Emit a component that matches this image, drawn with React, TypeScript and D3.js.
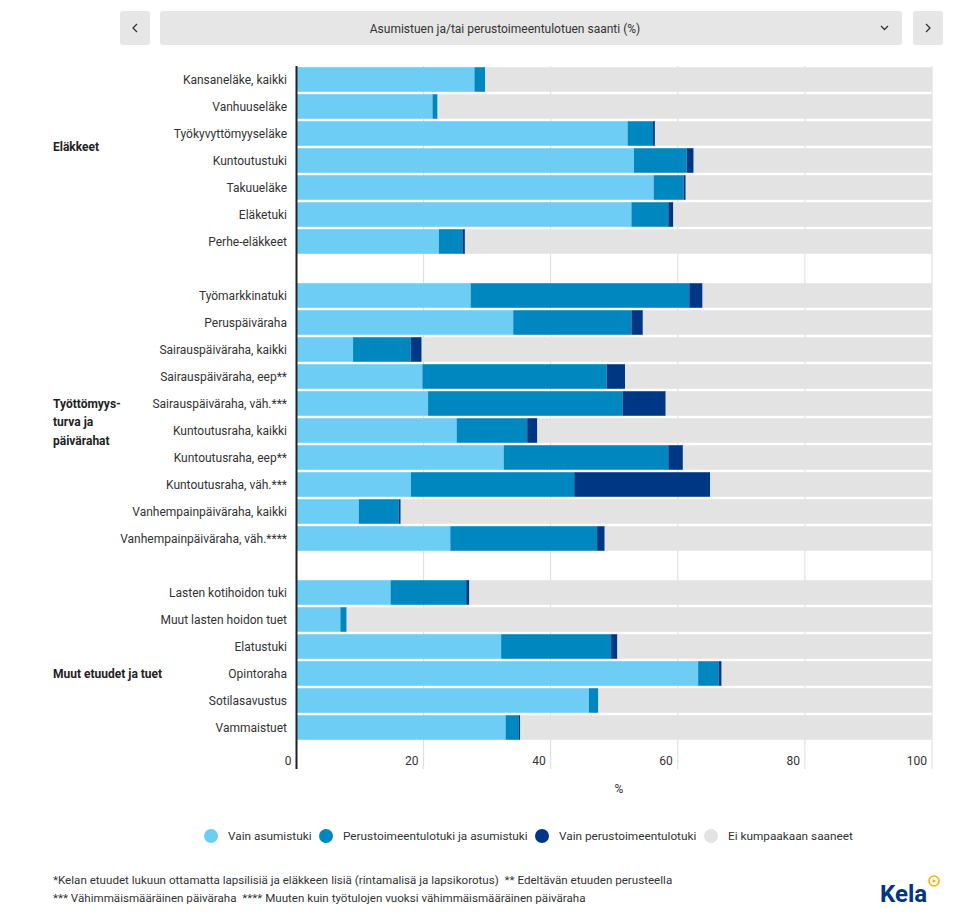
import React from "react";
import * as d3 from "d3";

const groupNames = ["Eläkkeet", "Työttömyys-\nturva ja\npäivärahat", "Muut etuudet ja tuet"];
const groupLabelRow = [2.5, 4, 3];
const categories = [
  ["Kansaneläke, kaikki", "Vanhuuseläke", "Työkyvyttömyyseläke", "Kuntoutustuki", "Takuueläke", "Eläketuki", "Perhe-eläkkeet"],
  ["Työmarkkinatuki", "Peruspäiväraha", "Sairauspäiväraha, kaikki", "Sairauspäiväraha, eep**", "Sairauspäiväraha, väh.***", "Kuntoutusraha, kaikki", "Kuntoutusraha, eep**", "Kuntoutusraha, väh.***", "Vanhempainpäiväraha, kaikki", "Vanhempainpäiväraha, väh.****"],
  ["Lasten kotihoidon tuki", "Muut lasten hoidon tuet", "Elatustuki", "Opintoraha", "Sotilasavustus", "Vammaistuet"],
];
const vainAsumistuki = [
  [28.0, 21.4, 52.1, 53.1, 56.2, 52.7, 22.4],
  [27.4, 34.1, 8.9, 19.8, 20.7, 25.2, 32.6, 18.0, 9.8, 24.2],
  [14.8, 6.9, 32.2, 63.2, 46.0, 32.9],
];
const perusJaAsumistuki = [
  [1.7, 0.8, 4.0, 8.3, 4.7, 5.8, 3.7],
  [34.4, 18.6, 9.1, 29.0, 30.6, 11.1, 25.9, 25.7, 6.3, 23.1],
  [11.9, 1.0, 17.3, 3.2, 1.5, 2.1],
];
const vainPerus = [
  [0, 0, 0.3, 1.1, 0.35, 0.8, 0.4],
  [2.1, 1.8, 1.7, 2.9, 6.8, 1.6, 2.3, 21.4, 0.3, 1.2],
  [0.5, 0, 1.0, 0.5, 0, 0.2],
];
const seriesNames = ["Vain asumistuki", "Perustoimeentulotuki ja asumistuki", "Vain perustoimeentulotuki", "Ei kumpaakaan saaneet"];
const seriesColors = ["#6dcdf5", "#0087bf", "#003784", "#e3e3e3"];
const xTicks = [0, 20, 40, 60, 80, 100];
const title = "Asumistuen ja/tai perustoimeentulotuen saanti (%)";
const footnotes = [
  "*Kelan etuudet lukuun ottamatta lapsilisiä ja eläkkeen lisiä (rintamalisä ja lapsikorotus)\u00a0 ** Edeltävän etuuden perusteella",
  "*** Vähimmäismääräinen päiväraha\u00a0 **** Muuten kuin työtulojen vuoksi vähimmäismääräinen päiväraha",
];

const FONT = "Roboto, 'Open Sans', sans-serif";

export default function App() {
  const W = 970, H = 914;
  type Row = { key: string; label: string; vals: number[]; group: number; idx: number };
  const rows: Row[] = [];
  const slots: string[] = [];
  categories.forEach((cats, g) => {
    if (g > 0) slots.push("spacer" + g);
    cats.forEach((c, i) => {
      const a = vainAsumistuki[g][i], b = perusJaAsumistuki[g][i], d = vainPerus[g][i];
      const rest = Math.max(0, 100 - a - b - d);
      rows.push({ key: c, label: c, vals: [a, b, d, rest], group: g, idx: i });
      slots.push(c);
    });
  });
  const x = d3.scaleLinear().domain([0, 100]).range([296.5, 932]);
  const y = d3.scaleBand<string>().domain(slots).range([66, 741]).paddingInner(0.09).paddingOuter(0.045);
  const plotTop = 66, plotBottom = 769;

  const legendX = [211, 326, 542, 711];

  return (
    <svg width={W} height={H} style={{ display: "block", position: "absolute", left: 0, top: 0 }} fontFamily={FONT}>
      {/* header */}
      <rect x={120} y={11} width={30} height={34} rx={3} fill="#e6e6e6" />
      <path d="M137 24 L133 28 L137 32" fill="none" stroke="#333" strokeWidth={1.3} />
      <rect x={160} y={11} width={742} height={34} rx={3} fill="#e6e6e6" />
      <text x={505} y={32.5} textAnchor="middle" fontSize={12} fill="#333">{title}</text>
      <path d="M881 26 L884.5 29.5 L888 26" fill="none" stroke="#333" strokeWidth={1.3} />
      <rect x={913} y={11} width={30} height={34} rx={3} fill="#e6e6e6" />
      <path d="M926 24 L930 28 L926 32" fill="none" stroke="#333" strokeWidth={1.3} />

      {/* gridlines */}
      {xTicks.filter((t) => t > 0).map((t) => (
        <line key={t} x1={x(t)} x2={x(t)} y1={plotTop} y2={plotBottom} stroke="#dcdcdc" strokeWidth={1} />
      ))}

      {/* bars */}
      {rows.map((r) => {
        let acc = 0;
        const y0 = y(r.key)!;
        return (
          <g key={r.key}>
            {r.vals.map((v, si) => {
              const x0 = x(acc);
              acc += v;
              const x1 = x(acc);
              if (v <= 0) return null;
              return <rect key={si} x={x0} y={y0} width={x1 - x0} height={y.bandwidth()} fill={seriesColors[si]} />;
            })}
            <text x={287} y={y0 + y.bandwidth() / 2 + 4} textAnchor="end" fontSize={12} fill="#333">{r.label}</text>
          </g>
        );
      })}

      {/* group labels */}
      {groupNames.map((g, gi) => {
        const cats = categories[gi];
        const lo = Math.floor(groupLabelRow[gi]);
        const frac = groupLabelRow[gi] - lo;
        const yA = y(cats[lo])! + y.bandwidth() / 2;
        const yB = lo + 1 < cats.length ? y(cats[lo + 1])! + y.bandwidth() / 2 : yA;
        const cy = yA + (yB - yA) * frac;
        const lines = g.split("\n");
        return (
          <text key={gi} x={53} y={cy + 4} fontSize={12} fontWeight="bold" fill="#222">
            {lines.map((l, li) => (
              <tspan key={li} x={53} dy={li === 0 ? 0 : 18.5}>{l}</tspan>
            ))}
          </text>
        );
      })}

      {/* axis line */}
      <line x1={296.5} x2={296.5} y1={plotTop} y2={plotBottom} stroke="#222" strokeWidth={2} />
      {xTicks.map((t) => (
        <text key={t} x={x(t) - 5} y={765} textAnchor="end" fontSize={12} fill="#333">{t}</text>
      ))}
      <text x={619} y={793} textAnchor="middle" fontSize={12} fill="#333">%</text>

      {/* legend */}
      {seriesNames.map((s, i) => (
        <g key={s}>
          <circle cx={legendX[i]} cy={836} r={7} fill={seriesColors[i]} />
          <text x={legendX[i] + 17} y={840} fontSize={11.8} fill="#333">{s}</text>
        </g>
      ))}

      {/* footnotes */}
      {footnotes.map((f, i) => (
        <text key={i} x={53} y={884 + i * 18} fontSize={11.6} fill="#333">{f}</text>
      ))}

      {/* logo */}
      <text x={880} y={902} fontSize={24} fontWeight="bold" fill="#003580" fontFamily={FONT}>Kela</text>
      <circle cx={934} cy={881} r={5} fill="none" stroke="#f5b400" strokeWidth={1.6} />
      <circle cx={934} cy={881} r={1.5} fill="#f5b400" />
    </svg>
  );
}
